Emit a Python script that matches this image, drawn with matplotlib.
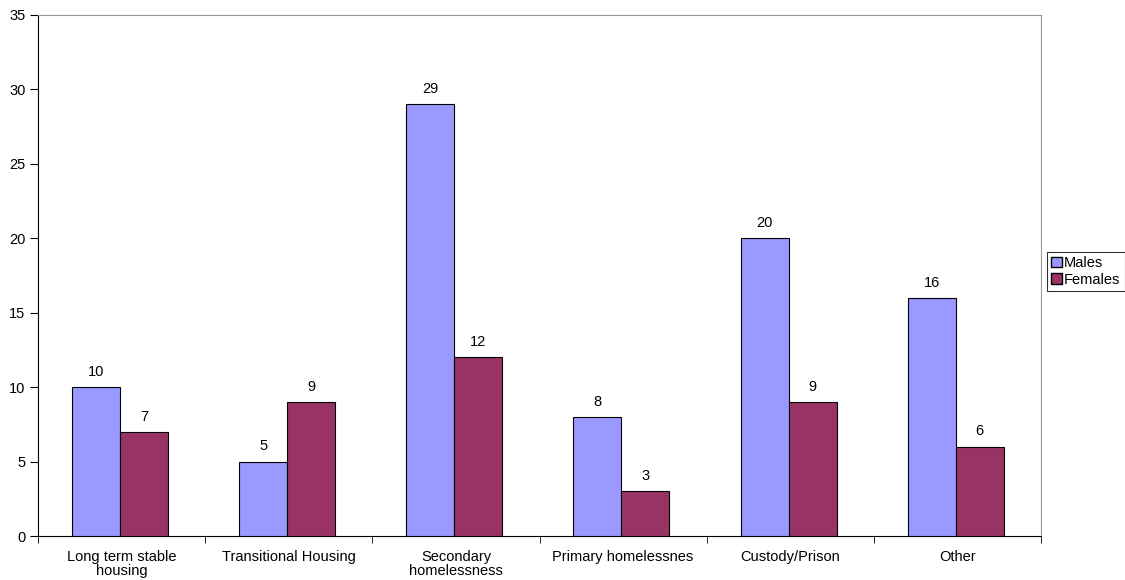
import matplotlib
matplotlib.use("Agg")
import matplotlib.pyplot as plt
import numpy as np
from matplotlib.patches import Patch

categories = ["Long term stable\nhousing", "Transitional Housing", "Secondary\nhomelessness",
              "Primary homelessnes", "Custody/Prison", "Other"]
males = [10, 5, 29, 8, 20, 16]
females = [7, 9, 12, 3, 9, 6]
yticks = [0, 5, 10, 15, 20, 25, 30, 35]

plt.rcParams['font.family'] = ['Liberation Sans', 'DejaVu Sans']
fs = 10.5

fig = plt.figure(figsize=(11.25, 5.8), dpi=100)
ax = fig.add_axes([38/1125, 44/580, (1041-38)/1125, (536-15)/580])

x = np.arange(len(categories))
w = 0.287
c_m = '#9999FF'
c_f = '#993366'
ax.bar(x - w/2 - 0.01, males, w, color=c_m, edgecolor='black', linewidth=0.8, zorder=3)
ax.bar(x + w/2 - 0.01, females, w, color=c_f, edgecolor='black', linewidth=0.8, zorder=3)

for xi, v in zip(x - w/2 - 0.01, males):
    ax.text(xi, v + 0.55, str(v), ha='center', va='bottom', fontsize=fs)
for xi, v in zip(x + w/2 - 0.01, females):
    ax.text(xi, v + 0.55, str(v), ha='center', va='bottom', fontsize=fs)

ax.set_xlim(-0.5, len(categories) - 0.5)
ax.set_ylim(0, 35)
ax.set_yticks(yticks)
ax.set_yticklabels([str(t) for t in yticks], fontsize=fs)
ax.set_xticks(x)
ax.set_xticklabels(categories, fontsize=fs, linespacing=1.05)
ax.tick_params(axis='x', length=0, pad=10)
ax.set_xticks(np.arange(-0.5, len(categories)), minor=True)
ax.tick_params(axis='x', which='minor', length=5, direction='out', color='black')
ax.tick_params(axis='y', length=6, direction='out', color='black', pad=3)

ax.spines['top'].set_color('#999999')
ax.spines['right'].set_color('#999999')
ax.spines['left'].set_color('black')
ax.spines['bottom'].set_color('black')
for s in ax.spines.values():
    s.set_linewidth(0.8)

handles = [Patch(facecolor=c_m, edgecolor='black', label='Males'),
           Patch(facecolor=c_f, edgecolor='black', label='Females')]
leg = fig.legend(handles=handles, loc='upper left', bbox_to_anchor=(1047/1125, 1 - 252/580),
                 fontsize=fs, frameon=True, fancybox=False, edgecolor='black',
                 handlelength=0.7, handleheight=0.7, handletextpad=0.15,
                 borderpad=0.3, labelspacing=0.15, borderaxespad=0)
leg.get_frame().set_linewidth(0.8)

fig.savefig('out.png', dpi=100)
